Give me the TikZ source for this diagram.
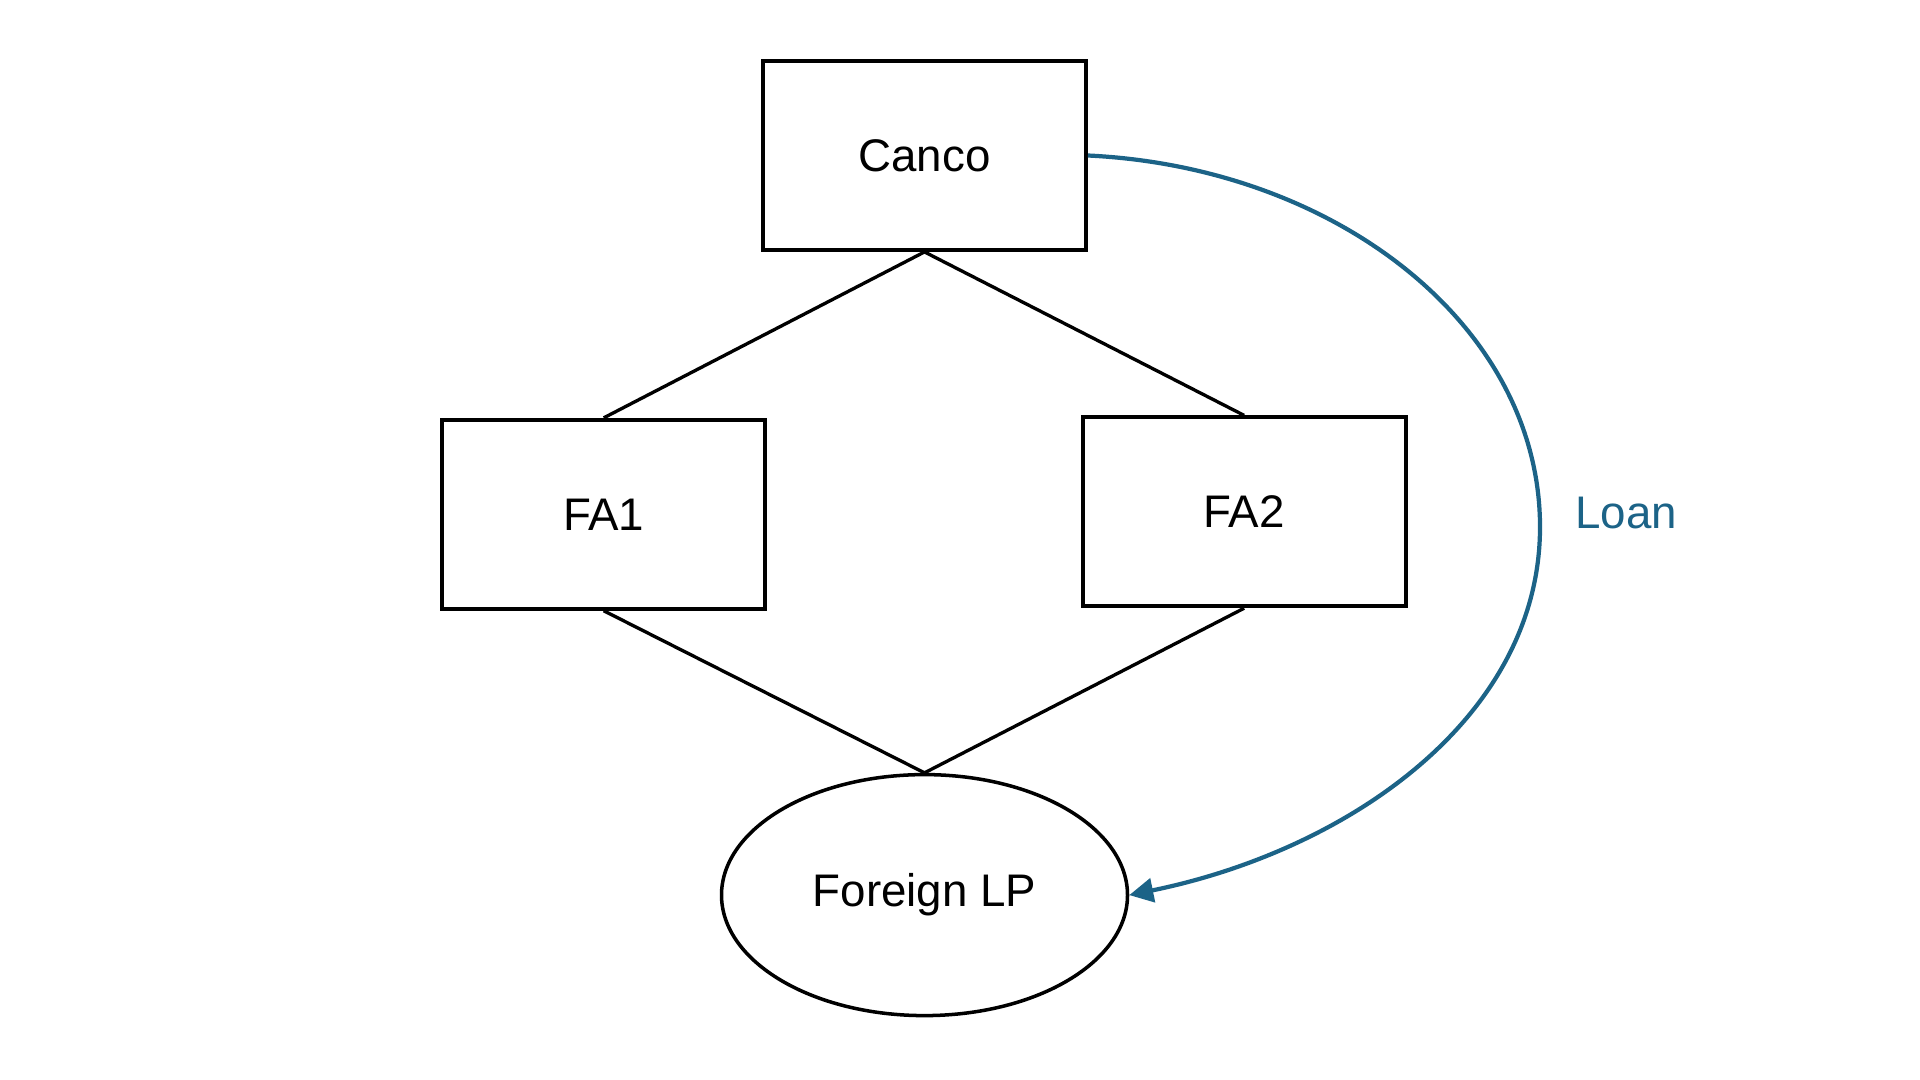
\documentclass[tikz,border=0pt]{standalone}
\usepackage{fontspec}
\setmainfont{Liberation Sans}
\usetikzlibrary{shapes.geometric,arrows.meta}
\definecolor{loanblue}{RGB}{28,99,135}
\tikzset{
  entity/.style={draw,line width=1.1pt,minimum width=3.23cm,minimum height=1.89cm,inner sep=0pt,font=\fontsize{13}{15}\selectfont},
  partner/.style={draw,ellipse,line width=1pt,minimum width=4.06cm,minimum height=2.41cm,inner sep=0pt,font=\fontsize{13}{15}\selectfont},
  link/.style={line width=0.95pt},
  loanarrow/.style={draw=loanblue,line width=1.2pt,-{Triangle[length=2.4mm,width=2.4mm]}}
}
\begin{document}
\begin{tikzpicture}
  % bounding box
  \useasboundingbox (0,0) rectangle (19.2,-10.8);
  % entities
  \node[entity] (canco) at (9.245,-1.555) {Canco};
  \node[entity] (fa1) at (6.037,-5.143) {FA1};
  \node[entity] (fa2) at (12.441,-5.118) {FA2};
  \node[partner] (lp) at (9.245,-8.951) {Foreign LP};
  % ownership
  \draw[link] (canco.south) -- (fa1.north);
  \draw[link] (canco.south) -- (fa2.north);
  \draw[link] (fa1.south) -- (lp.north);
  \draw[link] (fa2.south) -- (lp.north);
  % loan
  \coordinate (bend) at (15.40,-5.27);
  \draw[loanarrow] (canco.east) .. controls +(2.5,-0.12) and +(0,2.0) .. (bend)
    .. controls +(0,-1.9) and +(2.2,0.45) .. (lp.east);
  \node[text=loanblue,font=\fontsize{13}{15}\selectfont] (loan) at (16.26,-5.13) {Loan};
\end{tikzpicture}
\end{document}
